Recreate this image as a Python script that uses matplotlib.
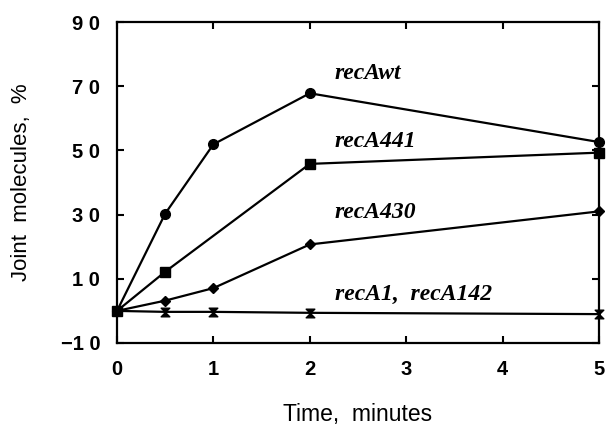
import matplotlib
matplotlib.use("Agg")
import matplotlib.pyplot as plt
from matplotlib.path import Path

time = [0, 0.5, 1, 2, 5]
time_441 = [0, 0.5, 2, 5]
recA_wt = [0, 30.3, 51.9, 67.8, 52.6]
recA_441 = [0, 12.2, 45.8, 49.3]
recA_430 = [0, 3.2, 7.1, 20.7, 31.0]
recA_1 = [0, -0.3, -0.3, -0.6, -1.0]

labels = ["recAwt", "recA441", "recA430", "recA1,  recA142"]
label_pos = [(2.26, 74.0), (2.26, 52.9), (2.26, 30.6), (2.26, 5.0)]

xticks = [0, 1, 2, 3, 4, 5]
yticks = [-10, 10, 30, 50, 70, 90]

fig = plt.figure(figsize=(6.06, 4.37), dpi=100)
ax = fig.add_axes([117 / 606, 1 - 343 / 437, (599 - 117) / 606, (343 - 22) / 437])

hourglass = Path([(-1, 1), (1, 1), (-1, -1), (1, -1), (-1, 1)],
                 [Path.MOVETO, Path.LINETO, Path.LINETO, Path.LINETO, Path.CLOSEPOLY])

lk = dict(color="black", lw=1.6, clip_on=False, zorder=3)
ax.plot(time, recA_1, marker=hourglass, ms=6.2, **lk)
ax.plot(time, recA_430, marker="D", ms=4.6, **lk)
ax.plot(time_441, recA_441, marker="s", ms=6.8, **lk)
ax.plot(time, recA_wt, marker="o", ms=7, **lk)

for txt, (x, y) in zip(labels, label_pos):
    ax.text(x, y, txt, family="Liberation Serif", style="italic", fontweight="bold",
            fontsize=17, ha="left", va="center")

ax.set_xlim(0, 5)
ax.set_ylim(-10, 90)
ax.set_xticks(xticks)
ax.set_yticks(yticks)
ax.set_xticklabels([str(v) for v in xticks])
ax.set_yticklabels(["\u22121 0" if v == -10 else " ".join(str(v)) for v in yticks])
ax.tick_params(direction="in", length=5, width=1.5, top=True, right=True,
               labelsize=14.5)
ax.tick_params(axis="x", pad=12.5)
ax.tick_params(axis="y", pad=12)
for lab in ax.get_xticklabels() + ax.get_yticklabels():
    lab.set_family("Liberation Sans")
    lab.set_fontweight("bold")
for s in ax.spines.values():
    s.set_linewidth(1.6)

ax.set_xlabel("Time,  minutes", family="Liberation Sans", fontsize=16.5, labelpad=17)
ax.set_ylabel("Joint  molecules,  %", family="Liberation Sans", fontsize=16, labelpad=21)

fig.savefig("out.png", dpi=100)
